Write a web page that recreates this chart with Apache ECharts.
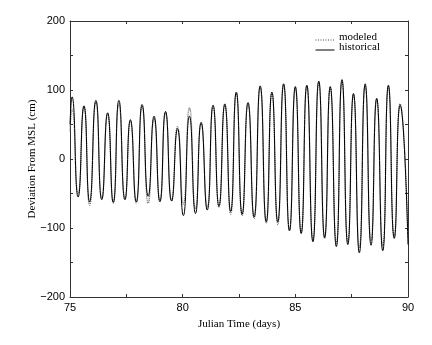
<!DOCTYPE html>
<html>
<head>
<meta charset="utf-8">
<script src="https://cdn.jsdelivr.net/npm/echarts@6/dist/echarts.min.js"></script>
<style>
  html, body { margin: 0; padding: 0; background: #fff; }
  #chart { width: 432px; height: 345px; }
</style>
</head>
<body>
<div id="chart"></div>
<script>
// Times (Julian days) of the start point, each high/low water, and the end point
var extremaTimes = [
  75.00, 75.09, 75.36, 75.62, 75.87, 76.15, 76.41, 76.67, 76.92, 77.17,
  77.44, 77.68, 77.94, 78.20, 78.47, 78.73, 78.99, 79.24, 79.51, 79.77,
  80.03, 80.30, 80.57, 80.82, 81.09, 81.35, 81.61, 81.87, 82.13, 82.38,
  82.64, 82.90, 83.17, 83.44, 83.71, 83.96, 84.22, 84.48, 84.74, 85.00,
  85.26, 85.51, 85.78, 86.04, 86.30, 86.55, 86.82, 87.07, 87.33, 87.58,
  87.84, 88.10, 88.36, 88.61, 88.88, 89.13, 89.39, 89.65, 90.00
];

// Observed water level (cm from MSL) at those times
var historical = [
   50,  90,  -55,  77,  -62,  85,  -59,  67,  -63,  85,
  -59,  57,  -62,  79,  -54,  62,  -62,  69,  -61,  44,
  -82,  62,  -79,  53,  -74,  78,  -68,  79,  -76,  97,
  -80,  81,  -84, 106,  -91,  97,  -91, 109, -104, 105,
 -108, 107, -120, 113, -114, 105, -127, 115, -124,  95,
 -136, 109, -125,  88, -133, 107, -115,  78, -124
];

// Model output (cm from MSL) at the same times
var modeled = [
   40,  72,  -50,  75,  -67,  82,  -57,  65,  -64,  80,
  -58,  55,  -64,  76,  -64,  58,  -60,  67,  -60,  47,
  -65,  74,  -72,  52,  -70,  76,  -70,  80,  -80,  95,
  -82,  82,  -86, 104,  -93,  96,  -95, 108, -103, 103,
 -106, 106, -116, 111, -115, 103, -122, 113, -120,  93,
 -128, 106, -118,  86, -126, 105, -112,  80, -115
];

var seriesNames = ['modeled', 'historical'];

var xTicks = { min: 75, max: 90, step: 2.5, labelStep: 5 };
var yTicks = { min: -200, max: 200, step: 50, labelStep: 100 };

function pairs(ts, vs) {
  return ts.map(function (t, i) { return [t, vs[i]]; });
}

var serif = 'Liberation Serif';
var sans = 'Liberation Sans';
var frameColor = '#333';
var modeledStyle = { stroke: '#666', lineWidth: 1.3, lineDash: [1, 1] };
var historicalStyle = { stroke: '#000', lineWidth: 1 };

function xAxisDef(pos, showLabels) {
  return {
    type: 'value', position: pos,
    min: xTicks.min, max: xTicks.max, interval: xTicks.step,
    axisLine: { show: true, onZero: false, lineStyle: { color: frameColor, width: 1 } },
    axisTick: { show: true, inside: true, length: 3, lineStyle: { color: frameColor } },
    splitLine: { show: false },
    axisLabel: {
      show: showLabels, margin: 5, color: '#000', fontFamily: sans, fontSize: 11,
      formatter: function (v) { return v % xTicks.labelStep === 0 ? String(v) : ''; }
    },
    name: showLabels ? 'Julian Time (days)' : '',
    nameLocation: 'middle', nameGap: 22, nameMoveOverlap: false,
    nameTextStyle: { fontFamily: serif, fontSize: 11, color: '#000' }
  };
}

function yAxisDef(pos, showLabels) {
  return {
    type: 'value', position: pos,
    min: yTicks.min, max: yTicks.max, interval: yTicks.step,
    axisLine: { show: true, onZero: false, lineStyle: { color: frameColor, width: 1 } },
    axisTick: { show: true, inside: true, length: 3, lineStyle: { color: frameColor } },
    splitLine: { show: false },
    axisLabel: {
      show: showLabels, margin: 5, color: '#000', fontFamily: sans, fontSize: 11,
      formatter: function (v) {
        if (v % yTicks.labelStep !== 0) return '';
        return v < 0 ? '\u2212' + Math.abs(v) : String(v);
      }
    },
    name: showLabels ? 'Deviation From MSL (cm)' : '',
    nameLocation: 'middle', nameGap: 32, nameMoveOverlap: false,
    nameTextStyle: { fontFamily: serif, fontSize: 11, color: '#000' }
  };
}

// Key in the upper-right corner of the plot: a line sample and a label per series
function keyEntry(y, name, style) {
  return [
    { type: 'line', left: 313, top: y, shape: { x1: 0, y1: 0, x2: 19, y2: 0 }, style: style },
    { type: 'text', left: 339, top: y - 6,
      style: { text: name, fontFamily: serif, fontSize: 11, fill: '#000' } }
  ];
}

var chart = echarts.init(document.getElementById('chart'), null, { renderer: 'canvas' });
chart.setOption({
  animation: false,
  backgroundColor: '#fff',
  grid: { left: 70, right: 24, top: 21, bottom: 48, containLabel: false },
  graphic: keyEntry(37.5, seriesNames[0], { stroke: '#444', lineWidth: 1, lineDash: [1, 1.5] })
    .concat(keyEntry(47.5, seriesNames[1], historicalStyle)),
  xAxis: [xAxisDef('bottom', true), xAxisDef('top', false)],
  yAxis: [yAxisDef('left', true), yAxisDef('right', false)],
  series: [
    {
      name: seriesNames[0], type: 'line', xAxisIndex: 0, yAxisIndex: 0,
      data: pairs(extremaTimes, modeled),
      smooth: 0.6, showSymbol: false,
      lineStyle: { color: modeledStyle.stroke, width: modeledStyle.lineWidth, type: modeledStyle.lineDash }
    },
    {
      name: seriesNames[1], type: 'line', xAxisIndex: 0, yAxisIndex: 0,
      data: pairs(extremaTimes, historical),
      smooth: 0.6, showSymbol: false,
      lineStyle: { color: historicalStyle.stroke, width: historicalStyle.lineWidth }
    }
  ]
});
</script>
</body>
</html>
